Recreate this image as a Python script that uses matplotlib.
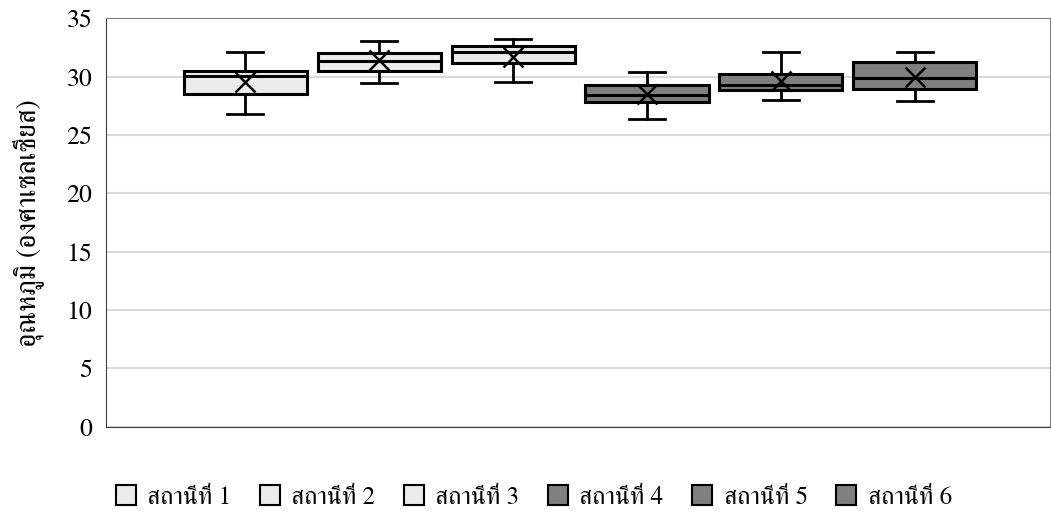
import matplotlib
matplotlib.use("Agg")
import matplotlib.pyplot as plt
from matplotlib.patches import Patch

plt.rcParams['font.family'] = ['FreeSerif', 'DejaVu Serif']

# ค่าอุณหภูมิของแต่ละสถานี (อ่านจากภาพ)
stations = ["สถานีที่ 1", "สถานีที่ 2", "สถานีที่ 3", "สถานีที่ 4", "สถานีที่ 5", "สถานีที่ 6"]
whislo = [26.8, 29.5, 29.55, 26.35, 28.0, 27.9]
q1 = [28.55, 30.5, 31.15, 27.8, 28.9, 28.95]
med = [30.05, 31.35, 32.1, 28.45, 29.3, 29.9]
q3 = [30.5, 32.05, 32.6, 29.3, 30.25, 31.25]
whishi = [32.1, 33.1, 33.2, 30.45, 32.1, 32.1]
mean = [29.55, 31.4, 31.7, 28.5, 29.6, 30.0]
colors = ["#ebebeb", "#ebebeb", "#ebebeb", "#7f7f7f", "#7f7f7f", "#7f7f7f"]

stats = []
for i in range(len(stations)):
    stats.append(dict(label=stations[i], whislo=whislo[i], q1=q1[i], med=med[i],
                      q3=q3[i], whishi=whishi[i], mean=mean[i]))

fig = plt.figure(figsize=(10.51, 5.13), dpi=100)
ax = fig.add_axes([0.101, 0.168, 0.898, 0.796])

pos = list(range(1, len(stations) + 1))
bp = ax.bxp(stats, positions=pos, widths=0.92, capwidths=0.27, patch_artist=True,
            showmeans=True, showfliers=False,
            boxprops=dict(edgecolor="black", linewidth=2.2),
            medianprops=dict(color="black", linewidth=2.2),
            whiskerprops=dict(color="black", linewidth=2),
            capprops=dict(color="black", linewidth=2),
            meanprops=dict(marker="x", markersize=14, markeredgecolor="black",
                           markeredgewidth=1.8))
for box, c in zip(bp["boxes"], colors):
    box.set_facecolor(c)

ax.set_xlim(-0.04, 7.01)
ax.set_ylim(0, 35)
ax.set_yticks(range(0, 36, 5))
ax.set_xticks([])
ax.yaxis.grid(True, color="#d9d9d9", linewidth=1.5)
ax.set_axisbelow(True)
ax.tick_params(axis="y", length=0, labelsize=18.5, pad=10)
for s in ax.spines.values():
    s.set_color("#808080")
ax.spines["left"].set_color("#404040")
ax.spines["bottom"].set_color("#404040")
ax.set_ylabel("อุณหภูมิ (องศาเซลเซียส)", fontsize=20, labelpad=16)

handles = [Patch(facecolor=c, edgecolor="black", linewidth=1.5) for c in colors]
fig.legend(handles, stations, loc="center", bbox_to_anchor=(0.508, 0.03), ncol=6,
           frameon=False, fontsize=18, handlelength=0.8, handleheight=0.8,
           handletextpad=0.45, columnspacing=1.15)

fig.savefig("out.png")
